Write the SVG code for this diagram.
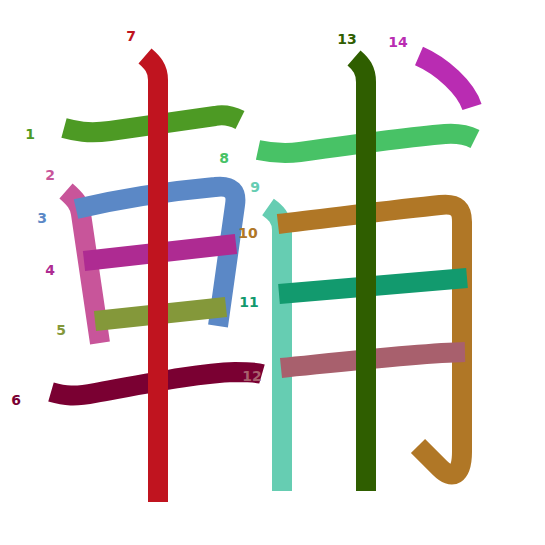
<svg xmlns="http://www.w3.org/2000/svg" width="545" height="545" viewBox="0 0 545 545">
<style>
.s{fill:none;stroke-width:20;stroke-linecap:butt;stroke-linejoin:round}
.n{font-family:"DejaVu Sans",sans-serif;font-size:14px;font-weight:bold;text-anchor:middle}
</style>
<rect width="545" height="545" fill="#fff"/>
<g id="strokes">
<path id="s1" class="s" stroke="#4d9a24" d="M64,128 C75,131 88,134 110,131 C140,127 185,120 215,116 C225,114 232,116 240,120"/>
<path id="s2" class="s" stroke="#c8559a" d="M66,191 C74,198 80,204 81,214 L100,343"/>
<path id="s3" class="s" stroke="#5b88c6" d="M76,209 C110,201 160,192 215,187 C232,185 237,192 235,205 L218,326"/>
<path id="s4" class="s" stroke="#ae2b92" d="M84,261 L236,244"/>
<path id="s5" class="s" stroke="#84983a" d="M95,321 L226,307"/>
<path id="s6" class="s" stroke="#7a0032" d="M51,392 C65,396 75,397 95,393 C150,383 200,373 235,372 C245,372 255,372 262,374"/>
<path id="s7" class="s" stroke="#c0141f" d="M145,56 C152,62 158,68 158,80 L158,502"/>
<path id="s8" class="s" stroke="#48c266" d="M258,150 C272,153 285,154 300,152 C350,145 410,137 445,134 C458,133 467,135 475,139"/>
<path id="s9" class="s" stroke="#66cdb2" d="M268,207 C275,212 282,218 282,230 L282,491"/>
<path id="s10" class="s" stroke="#b07726" d="M278,224 C330,218 400,209 440,205 C458,203 462,210 462,222 L462,452 C462,476 452,480 440,468 L418,446"/>
<path id="s11" class="s" stroke="#129a6e" d="M279,294 L467,278"/>
<path id="s12" class="s" stroke="#a8606d" d="M281,368 C350,361 420,353 465,352"/>
<path id="s13" class="s" stroke="#2f5e00" d="M354,58 C361,64 366,70 366,82 L366,491"/>
<path id="s14" class="s" stroke="#b92cb2" d="M419,56 C442,66 466,88 472,107"/>
</g>
<g id="labels">
<text class="n" x="30" y="139" fill="#4d9a24">1</text>
<text class="n" x="50" y="180" fill="#c8559a">2</text>
<text class="n" x="42" y="223" fill="#5b88c6">3</text>
<text class="n" x="50" y="275" fill="#ae2b92">4</text>
<text class="n" x="61" y="335" fill="#84983a">5</text>
<text class="n" x="16" y="405" fill="#7a0032">6</text>
<text class="n" x="131" y="41" fill="#c0141f">7</text>
<text class="n" x="224" y="163" fill="#48c266">8</text>
<text class="n" x="255" y="192" fill="#66cdb2">9</text>
<text class="n" x="248" y="238" fill="#b07726">10</text>
<text class="n" x="249" y="307" fill="#129a6e">11</text>
<text class="n" x="252" y="381" fill="#a8606d">12</text>
<text class="n" x="347" y="44" fill="#2f5e00">13</text>
<text class="n" x="398" y="47" fill="#b92cb2">14</text>
</g>
</svg>
